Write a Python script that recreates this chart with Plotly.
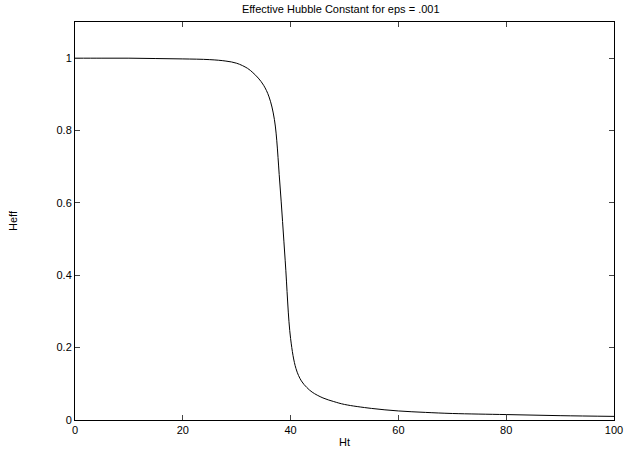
import plotly.graph_objects as go

ht = [0, 5, 10, 15, 20, 25, 28, 30, 32, 33, 34, 35, 36, 37, 38, 39, 40, 41, 42, 43, 44,
      46, 48, 50, 55, 60, 65, 70, 80, 90, 100]
heff = [1.0, 1.0, 1.0, 0.999, 0.998, 0.996, 0.992, 0.986, 0.972, 0.96, 0.945, 0.925,
        0.893, 0.83, 0.655, 0.44, 0.225, 0.142, 0.108, 0.09, 0.077, 0.061, 0.051, 0.043,
        0.032, 0.025, 0.021, 0.018, 0.015, 0.012, 0.010]

x_ticks = [0, 20, 40, 60, 80, 100]
y_ticks = [0, 0.2, 0.4, 0.6, 0.8, 1]
y_tick_labels = ["0", "0.2", "0.4", "0.6", "0.8", "1"]

fig = go.Figure()
fig.add_trace(go.Scatter(x=ht, y=heff, mode="lines", line=dict(color="black", width=1),
                         line_shape="spline", showlegend=False))

font = dict(family="Liberation Sans, Arial, sans-serif", size=12, color="black")
fig.update_layout(
    width=631, height=457, autosize=False,
    margin=dict(l=75, r=17, t=22, b=37, autoexpand=False),
    paper_bgcolor="white", plot_bgcolor="white",
    font=font,
    title=dict(text="Effective Hubble Constant for eps = .001", x=0.54, xanchor="center",
               y=0.98, yanchor="middle", font=dict(size=11)),
)
fig.update_xaxes(range=[0, 100], tickvals=x_ticks, ticks="inside", ticklen=5,
                 showline=True, linecolor="black", linewidth=1, mirror="allticks",
                 showgrid=False, zeroline=False, tickfont=dict(size=11), automargin=False,
                 title=dict(text="Ht", standoff=3, font=dict(size=11)))
fig.update_yaxes(range=[0, 1.1], tickvals=y_ticks, ticktext=y_tick_labels,
                 ticks="inside", ticklen=5, automargin=False,
                 showline=True, linecolor="black", linewidth=1, mirror="allticks",
                 showgrid=False, zeroline=False, tickfont=dict(size=11),
                 title=dict(text="Heff", standoff=36, font=dict(size=11)))

fig.write_html("out.html", config={"displayModeBar": False},
               post_script="document.body.style.margin='0';document.body.style.overflow='hidden';")
